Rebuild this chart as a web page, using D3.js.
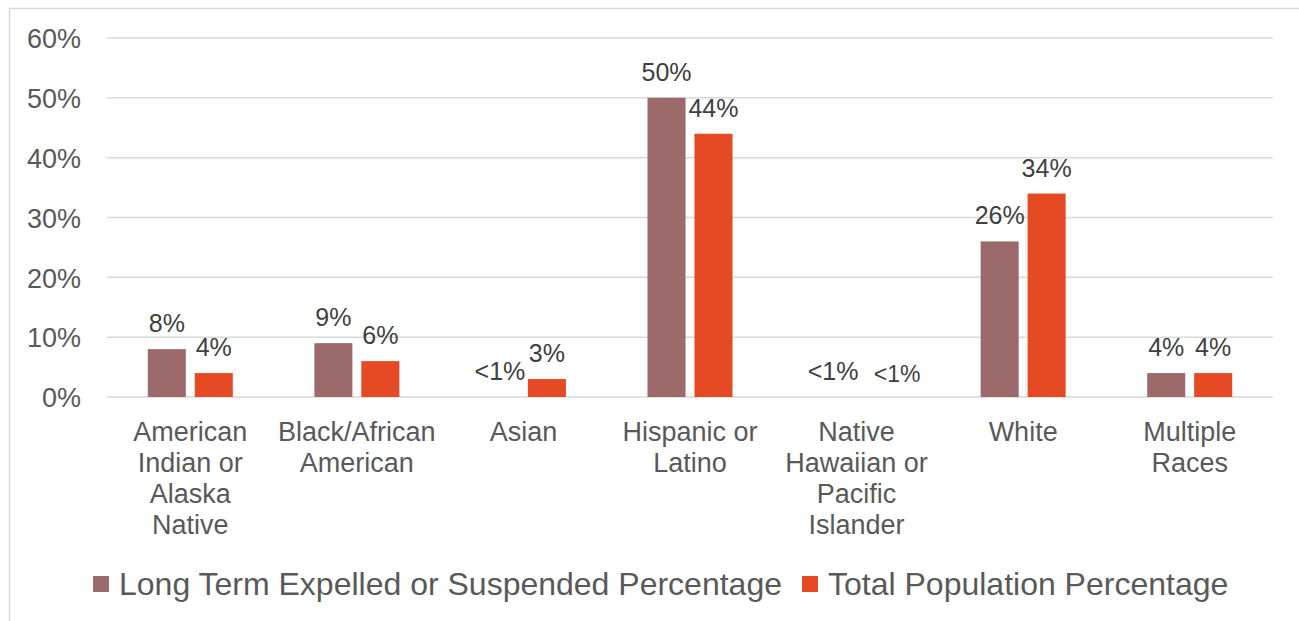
<!DOCTYPE html>
<html lang="en">
<head>
<meta charset="utf-8">
<title>Expelled or Suspended vs Total Population</title>
<script src="https://d3js.org/d3.v7.min.js"></script>
<style>
  body { margin: 0; background: #fff; }
  svg text { font-family: "Liberation Sans", Arial, sans-serif; }
</style>
</head>
<body>
<div id="chart"></div>
<script>
/* global d3 */

var categories = ["American Indian or Alaska Native", "Black/African American", "Asian",
                  "Hispanic or Latino", "Native Hawaiian or Pacific Islander", "White", "Multiple Races"];
var categoryLines = [
    ["American", "Indian or", "Alaska", "Native"],
    ["Black/African", "American"],
    ["Asian"],
    ["Hispanic or", "Latino"],
    ["Native", "Hawaiian or", "Pacific", "Islander"],
    ["White"],
    ["Multiple", "Races"]
];
var seriesNames = ["Long Term Expelled or Suspended Percentage", "Total Population Percentage"];
var expelled = [0.08, 0.09, 0, 0.50, 0, 0.26, 0.04];
var expelledLabels = ["8%", "9%", "<1%", "50%", "<1%", "26%", "4%"];
var population = [0.04, 0.06, 0.03, 0.44, 0, 0.34, 0.04];
var populationLabels = ["4%", "6%", "3%", "44%", "<1%", "34%", "4%"];
var yTicks = [0, 0.1, 0.2, 0.3, 0.4, 0.5, 0.6];

var width = 1299, height = 621;
var colors = ["#9c6a6a", "#e54a24"];
var textColor = "#595959", labelColor = "#404040", gridColor = "#d9d9d9";

var svg = d3.select("#chart").append("svg")
    .attr("width", width)
    .attr("height", height);

// chart frame
svg.append("rect")
    .attr("x", 9.5).attr("y", 8.5)
    .attr("width", width + 10).attr("height", height + 10)
    .attr("fill", "none")
    .attr("stroke", gridColor)
    .attr("stroke-width", 1.5);

var x = d3.scaleBand().domain(categories).range([107, 1273]);
var groupWidth = 85;
var x1 = d3.scaleBand().domain([0, 1]).range([0, groupWidth]).paddingInner(0.19);
var y = d3.scaleLinear().domain([0, 0.6]).range([397, 38]);

// gridlines
svg.append("g").selectAll("line")
    .data(yTicks)
    .join("line")
    .attr("x1", 107).attr("x2", 1273)
    .attr("y1", function(d) { return y(d); })
    .attr("y2", function(d) { return y(d); })
    .attr("stroke", gridColor)
    .attr("stroke-width", 1.5);

// y axis labels
var yAxis = svg.append("g")
    .attr("transform", "translate(81,0)")
    .call(d3.axisLeft(y).tickValues(yTicks).tickFormat(d3.format(".0%")).tickSize(0).tickPadding(0));
yAxis.select(".domain").remove();
yAxis.selectAll("text")
    .attr("fill", textColor)
    .attr("font-size", 27)
    .attr("dy", "0.36em");

// bars
var series = [
    { values: expelled, labels: expelledLabels },
    { values: population, labels: populationLabels }
];

series.forEach(function(s, si) {
    var g = svg.append("g");
    var rows = categories.map(function(c, i) {
        return { cat: c, value: s.values[i], label: s.labels[i], i: i };
    });
    function barX(d) {
        return x(d.cat) + (x.bandwidth() - groupWidth) / 2 + x1(si);
    }
    g.selectAll("rect")
        .data(rows)
        .join("rect")
        .attr("x", barX)
        .attr("y", function(d) { return y(d.value); })
        .attr("width", x1.bandwidth())
        .attr("height", function(d) { return y(0) - y(d.value); })
        .attr("fill", colors[si]);

    // the small "<1%" of the second series is nudged right, as in the original
    g.selectAll("text")
        .data(rows)
        .join("text")
        .attr("x", function(d) {
            var shift = (si === 1 && d.label === "<1%") ? 17 : 0;
            return barX(d) + x1.bandwidth() / 2 + shift;
        })
        .attr("y", function(d) { return y(d.value) - 17 + ((si === 1 && d.label === "<1%") ? 2 : 0); })
        .attr("text-anchor", "middle")
        .attr("fill", labelColor)
        .attr("font-size", function(d) { return (si === 1 && d.label === "<1%") ? 23 : 25; })
        .text(function(d) { return d.label; });
});

// category labels
var cat = svg.append("g").selectAll("text")
    .data(categories)
    .join("text")
    .attr("text-anchor", "middle")
    .attr("fill", textColor)
    .attr("font-size", 27)
    .attr("transform", function(d) { return "translate(" + (x(d) + x.bandwidth() / 2) + ",441)"; });
cat.selectAll("tspan")
    .data(function(d, i) { return categoryLines[i]; })
    .join("tspan")
    .attr("x", 0)
    .attr("y", function(d, i) { return i * 31; })
    .text(function(d) { return d; });

// legend
var legendX = [93, 802];
var legend = svg.append("g").selectAll("g")
    .data(seriesNames)
    .join("g")
    .attr("transform", function(d, i) { return "translate(" + legendX[i] + ",576)"; });
legend.append("rect")
    .attr("width", 16).attr("height", 16)
    .attr("fill", function(d, i) { return colors[i]; });
legend.append("text")
    .attr("x", 26).attr("y", 19)
    .attr("fill", textColor)
    .attr("font-size", 32)
    .text(function(d) { return d; });
</script>
</body>
</html>
